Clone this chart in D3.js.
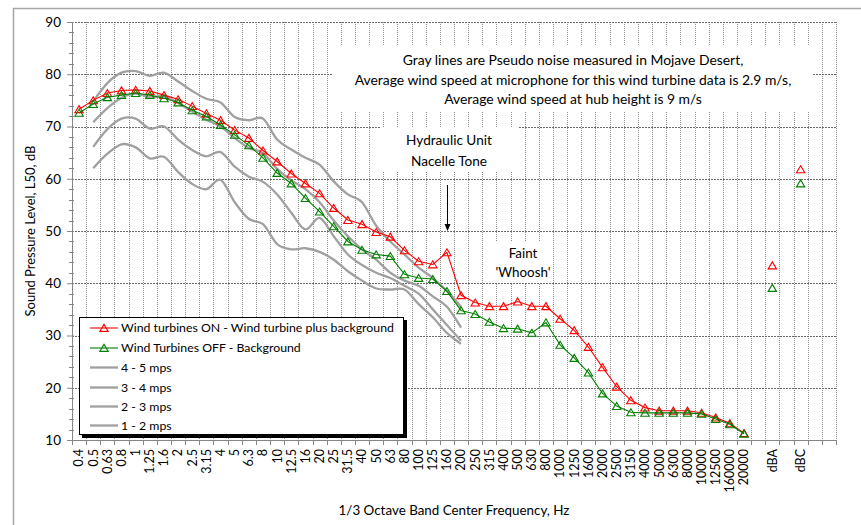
<!DOCTYPE html>
<html><head><meta charset="utf-8">
<script src="https://cdn.jsdelivr.net/npm/d3@7"></script>
<style>
html,body{margin:0;padding:0;background:#fff;}
svg{display:block;font-family:Lato,"Open Sans",sans-serif;}
</style></head><body>
<svg id="chart" width="861" height="525"></svg>
<script>
// ---------- DATA ----------
const categories = ["0.4","0.5","0.63","0.8","1","1.25","1.6","2","2.5","3.15","4","5","6.3","8","10","12.5","16","20","25","31.5","40","50","63","80","100","125","160","200","250","315","400","500","630","800","1000","1250","1600","2000","2500","3150","4000","5000","6300","8000","10000","12500","160000","20000","","dBA","","dBC","",""];
const bandCategories = categories.slice(0, 48);
const onValues = [73.3,75.0,76.4,76.9,77.0,76.8,76.0,75.2,73.9,72.5,71.2,69.3,67.8,65.4,63.3,61.0,59.1,57.2,54.4,52.1,51.3,49.8,48.9,46.3,44.2,43.6,45.9,37.7,36.3,35.6,35.6,36.5,35.6,35.6,33.2,31.0,27.8,23.9,20.2,17.6,16.2,15.6,15.6,15.6,15.2,14.3,13.2,11.3];
const offValues = [72.6,74.3,75.6,76.0,76.4,76.0,75.4,74.6,73.1,71.9,70.3,68.4,66.4,64.0,61.1,59.1,56.3,53.7,50.9,48.0,46.4,45.5,45.2,41.7,41.0,40.8,38.5,34.8,34.1,32.6,31.4,31.3,30.5,32.5,28.2,25.7,22.9,18.9,16.5,15.3,15.2,15.2,15.2,15.2,15.0,14.0,13.0,11.2];
const summaryCategories = ["dBA","dBC"];
const onSummary = [43.4, 61.8];
const offSummary = [39.1, 59.1];
const grayCategories = categories.slice(1, 28);
const gray45 = [74.8,78.3,80.3,80.6,79.7,80.3,78.6,76.8,75.3,74.6,71.8,71.2,71.5,67.5,65.6,64.0,62.7,59.5,57.0,55.5,51.0,48.0,45.5,43.0,41.0,38.5,35.5];
const gray34 = [70.8,73.5,75.5,76.3,75.6,75.8,74.5,72.8,71.3,70.0,67.8,65.9,64.9,61.9,59.7,58.0,55.5,52.0,49.0,46.5,44.5,42.0,40.5,39.5,37.5,35.5,31.5];
const gray23 = [66.1,69.5,71.5,71.5,69.6,70.0,67.5,65.5,64.3,65.1,62.3,60.4,59.4,57.0,53.5,50.3,52.5,49.0,45.5,43.5,42.0,41.0,39.5,38.0,35.0,32.0,29.0];
const gray12 = [62.0,64.8,66.6,66.0,63.9,64.2,61.3,59.0,58.0,59.8,55.5,52.3,51.3,47.5,46.5,46.7,46.0,44.5,42.3,40.5,39.0,38.8,38.8,36.0,33.5,30.5,28.4];
const grayNames = ["4 - 5 mps","3 - 4 mps","2 - 3 mps","1 - 2 mps"];
const yTicks = [10,20,30,40,50,60,70,80,90];
const yMinorTicks = d3.range(10, 90, 2);
const seriesNames = ["Wind turbines ON - Wind turbine plus background","Wind Turbines OFF - Background"];
const noteLines = ["Gray lines are Pseudo noise measured in Mojave Desert,","Average wind speed at microphone for this wind turbine data is 2.9 m/s,","Average wind speed at hub height is 9 m/s"];
const toneLines = ["Hydraulic Unit","Nacelle Tone"];
const whooshLines = ["Faint","'Whoosh'"];

// ---------- LAYOUT ----------
const svg = d3.select("#chart");
const L = 72, R = 836, T = 22, B = 440;
const x = d3.scaleBand().domain(d3.range(categories.length)).range([L, R]);
const bw = x.bandwidth();
const cx = i => x(i) + bw / 2;
const y = d3.scaleLinear().domain([10, 90]).range([B, T]);
const idxOf = c => categories.indexOf(c);

// outer chart border
svg.append("rect").attr("x", 13.5).attr("y", 8.5).attr("width", 900).attr("height", 600)
  .attr("fill", "#fff").attr("stroke", "#a6a6a6").attr("stroke-width", 1.5);

// vertical gridlines
svg.append("g").selectAll("line").data(d3.range(1, categories.length + 1)).join("line")
  .attr("x1", k => Math.round(L + k * bw) + 0.5).attr("x2", k => Math.round(L + k * bw) + 0.5)
  .attr("y1", T).attr("y2", B)
  .attr("stroke", "#8c8c8c").attr("stroke-width", 1).attr("stroke-dasharray", "1,1");
// horizontal major gridlines
svg.append("g").selectAll("line").data(yTicks.filter(v => v > 10)).join("line")
  .attr("x1", L).attr("x2", R)
  .attr("y1", v => Math.round(y(v)) + 0.5).attr("y2", v => Math.round(y(v)) + 0.5)
  .attr("stroke", "#6a6a6a").attr("stroke-width", 1).attr("stroke-dasharray", "2,1");

// white annotation boxes (cover the grid)
function whiteBox(x0, y0, x1, y1) {
  svg.append("rect").attr("x", x0).attr("y", y0).attr("width", x1 - x0).attr("height", y1 - y0).attr("fill", "#fff");
}
whiteBox(333, 45, 813, 112);
whiteBox(380, 127, 518, 172);
whiteBox(493, 241, 553, 283);

// y axis
const yAxis = svg.append("g").attr("transform", `translate(${L},0)`)
  .call(d3.axisLeft(y).tickValues(yTicks).tickSize(5).tickPadding(6).tickSizeOuter(0));
yAxis.select(".domain").attr("stroke", "#868686");
yAxis.selectAll(".tick line").attr("stroke", "#868686").attr("x1", 2).attr("x2", -5);
yAxis.selectAll(".tick text").attr("font-size", 13.5).attr("fill", "#000").attr("font-family", "Lato");
svg.append("g").selectAll("line").data(yMinorTicks.filter(v => v % 10 !== 0)).join("line")
  .attr("x1", L - 3).attr("x2", L + 2)
  .attr("y1", v => Math.round(y(v)) + 0.5).attr("y2", v => Math.round(y(v)) + 0.5)
  .attr("stroke", "#868686");

// x axis
const xAxis = svg.append("g").attr("transform", `translate(0,${B})`)
  .call(d3.axisBottom(x).tickSize(0).tickSizeOuter(0).tickFormat(i => categories[i]));
xAxis.select(".domain").attr("stroke", "#868686");
xAxis.selectAll(".tick text")
  .attr("y", 0).attr("x", -9).attr("dy", "0.35em")
  .attr("transform", "rotate(-90)").style("text-anchor", "end")
  .attr("font-size", 12.5).attr("fill", "#000").attr("font-family", "Lato");
svg.append("g").selectAll("line").data(d3.range(0, categories.length + 1)).join("line")
  .attr("x1", k => Math.round(L + k * bw) + 0.5).attr("x2", k => Math.round(L + k * bw) + 0.5)
  .attr("y1", B).attr("y2", B + 5).attr("stroke", "#868686");

// axis titles
svg.append("text").attr("x", (L + R) / 2).attr("y", 515).attr("text-anchor", "middle")
  .attr("font-size", 13.4).text("1/3 Octave Band Center Frequency, Hz");
svg.append("text").attr("transform", `translate(35,${(T + B) / 2}) rotate(-90)`).attr("text-anchor", "middle")
  .attr("font-size", 13).text("Sound Pressure Level, L50, dB");

// gray curves
const grayLine = d3.line().x((d, i) => cx(idxOf(grayCategories[i]))).y(d => y(d)).curve(d3.curveCardinal);
[gray45, gray34, gray23, gray12].forEach(arr => {
  svg.append("path").attr("d", grayLine(arr)).attr("fill", "none")
    .attr("stroke", "#a0a0a0").attr("stroke-width", 2.3);
});

// red / green series
const tri = "M0,-3.6L4.2,3.4L-4.2,3.4Z";
const seriesLine = d3.line().x((d, i) => cx(idxOf(bandCategories[i]))).y(d => y(d));
function drawSeries(vals, summ, color) {
  svg.append("path").attr("d", seriesLine(vals)).attr("fill", "none").attr("stroke", color).attr("stroke-width", 1.1);
  const pts = vals.map((v, i) => [cx(idxOf(bandCategories[i])), y(v)])
    .concat(summ.map((v, i) => [cx(idxOf(summaryCategories[i])), y(v)]));
  svg.append("g").selectAll("path").data(pts).join("path")
    .attr("transform", d => `translate(${d[0]},${d[1]})`).attr("d", tri)
    .attr("fill", "none").attr("stroke", color).attr("stroke-width", 1.1);
}
drawSeries(onValues, onSummary, "#ff0000");
drawSeries(offValues, offSummary, "#008000");

// annotations
const note = svg.append("text").attr("text-anchor", "middle").attr("font-size", 13.9);
noteLines.forEach((t, i) => note.append("tspan").attr("x", 573).attr("y", 65 + i * 19.7).text(t));
const tone = svg.append("text").attr("text-anchor", "middle").attr("font-size", 13.6);
toneLines.forEach((t, i) => tone.append("tspan").attr("x", 449).attr("y", 145 + i * 20.5).text(t));
const wh = svg.append("text").attr("text-anchor", "middle").attr("font-size", 13.4);
whooshLines.forEach((t, i) => wh.append("tspan").attr("x", 523).attr("y", 258 + i * 19).text(t));

// arrow
const ax = Math.round(cx(idxOf("160"))) + 0.5;
svg.append("line").attr("x1", ax).attr("x2", ax).attr("y1", 185).attr("y2", 226).attr("stroke", "#000").attr("stroke-width", 1);
svg.append("path").attr("d", `M${ax - 3},${224}L${ax + 3},${224}L${ax},${231}Z`).attr("fill", "#000");

// legend
const lg = svg.append("g");
lg.append("rect").attr("x", 82).attr("y", 320).attr("width", 325).attr("height", 118).attr("fill", "#000");
lg.append("rect").attr("x", 79.5).attr("y", 317.5).attr("width", 324).attr("height", 117).attr("fill", "#fff").attr("stroke", "#000");
const legendRows = [
  {name: seriesNames[0], color: "#ff0000", marker: true, w: 1.1},
  {name: seriesNames[1], color: "#008000", marker: true, w: 1.1}
].concat(grayNames.map(n => ({name: n, color: "#a0a0a0", marker: false, w: 2.3})));
const rowY = [328, 348, 367.5, 387.5, 406.5, 425.5];
legendRows.forEach((r, i) => {
  const g = lg.append("g").attr("transform", `translate(0,${rowY[i]})`);
  g.append("line").attr("x1", 90).attr("x2", 118).attr("y1", 0).attr("y2", 0).attr("stroke", r.color).attr("stroke-width", r.w);
  if (r.marker) g.append("path").attr("d", tri).attr("transform", "translate(104,0)").attr("fill", "none").attr("stroke", r.color).attr("stroke-width", 1.1);
  g.append("text").attr("x", 121).attr("y", 0).attr("dy", "0.35em").attr("font-size", 12.3).text(r.name);
});
</script>
</body></html>
